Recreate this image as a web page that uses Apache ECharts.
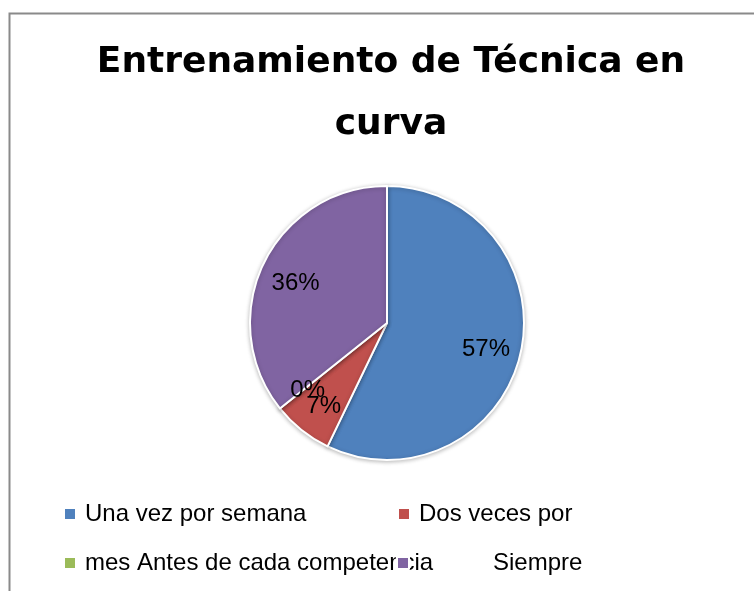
<!DOCTYPE html>
<html>
<head>
<meta charset="utf-8">
<script src="https://cdn.jsdelivr.net/npm/echarts@6/dist/echarts.min.js"></script>
<style>
  html, body { margin: 0; padding: 0; background: #fff; }
  #main { width: 754px; height: 591px; }
</style>
</head>
<body>
<div id="main"></div>
<script>
// 数据
const categories = ['Una vez por semana', 'Dos veces por mes', 'Antes de cada competencia', 'Siempre'];
const values = [8, 1, 0, 5];
// 图例上显示的文字（原图的换行就是这么断的）
const legendText = ['Una vez por semana', 'Dos veces por', 'mes Antes de cada competencia', 'Siempre'];
const colors = ['#4F81BD', '#C0504D', '#9BBB59', '#8064A2'];

var chartDom = document.getElementById('main');
var myChart = echarts.init(chartDom);

var pieData = categories.map(function (name, i) {
    return { name: name, value: values[i], itemStyle: { color: colors[i] } };
});

// 图例位置：两列两行
var legendPos = [
    { left: 63, top: 498, padLeft: 4 },
    { left: 397, top: 498, padLeft: 4 },
    { left: 63, top: 547, padLeft: 4 },
    { left: 396, top: 547, padLeft: 79 }
];
var legends = categories.map(function (name, i) {
    return {
        data: [name],
        left: legendPos[i].left,
        top: legendPos[i].top,
        padding: 0,
        icon: 'rect',
        itemWidth: 12,
        itemHeight: 12,
        selectedMode: false,
        formatter: function () { return legendText[i]; },
        textStyle: {
            fontFamily: 'Liberation Sans',
            fontSize: 24,
            lineHeight: 24,
            color: '#000',
            padding: [8, 0, 0, legendPos[i].padLeft]
        }
    };
});

var option = {
    backgroundColor: '#fff',
    animation: false,
    title: {
        text: 'Entrenamiento de Técnica en\ncurva',
        left: 391,
        textAlign: 'center',
        top: 32,
        padding: 0,
        textStyle: {
            fontFamily: 'DejaVu Sans',
            fontWeight: 'bold',
            fontSize: 36,
            lineHeight: 62,
            color: '#000'
        }
    },
    legend: legends,
    graphic: [{
        type: 'rect',
        shape: { x: 9.5, y: 13.5, width: 800, height: 640 },
        style: { fill: 'none', stroke: '#8a8a8a', lineWidth: 2 },
        silent: true
    }],
    series: [
        {
            type: 'pie',
            center: [387, 323],
            radius: [0, 137],
            startAngle: 90,
            clockwise: true,
            percentPrecision: 0,
            data: pieData,
            label: { show: false },
            labelLine: { show: false },
            itemStyle: {
                borderColor: '#fff',
                borderWidth: 2,
                shadowBlur: 4,
                shadowColor: 'rgba(0,0,0,0.25)',
                shadowOffsetY: 1
            },
            emphasis: { disabled: true }
        },
        {
            // 只用来放百分比标签（透明）
            type: 'pie',
            center: [387, 323],
            radius: [60, 137],
            startAngle: 90,
            clockwise: true,
            minShowLabelAngle: 0,
            avoidLabelOverlap: false,
            percentPrecision: 0,
            silent: true,
            data: categories.map(function (name, i) {
                return { name: name, value: values[i] };
            }),
            itemStyle: { color: 'rgba(0,0,0,0)', borderWidth: 0 },
            label: {
                show: true,
                position: 'inside',
                formatter: '{d}%',
                fontFamily: 'Liberation Sans',
                fontSize: 24,
                color: '#000',
                offset: [0, 4]
            },
            labelLayout: { hideOverlap: false },
            labelLine: { show: false },
            emphasis: { disabled: true }
        }
    ]
};
myChart.setOption(option);
</script>
</body>
</html>
